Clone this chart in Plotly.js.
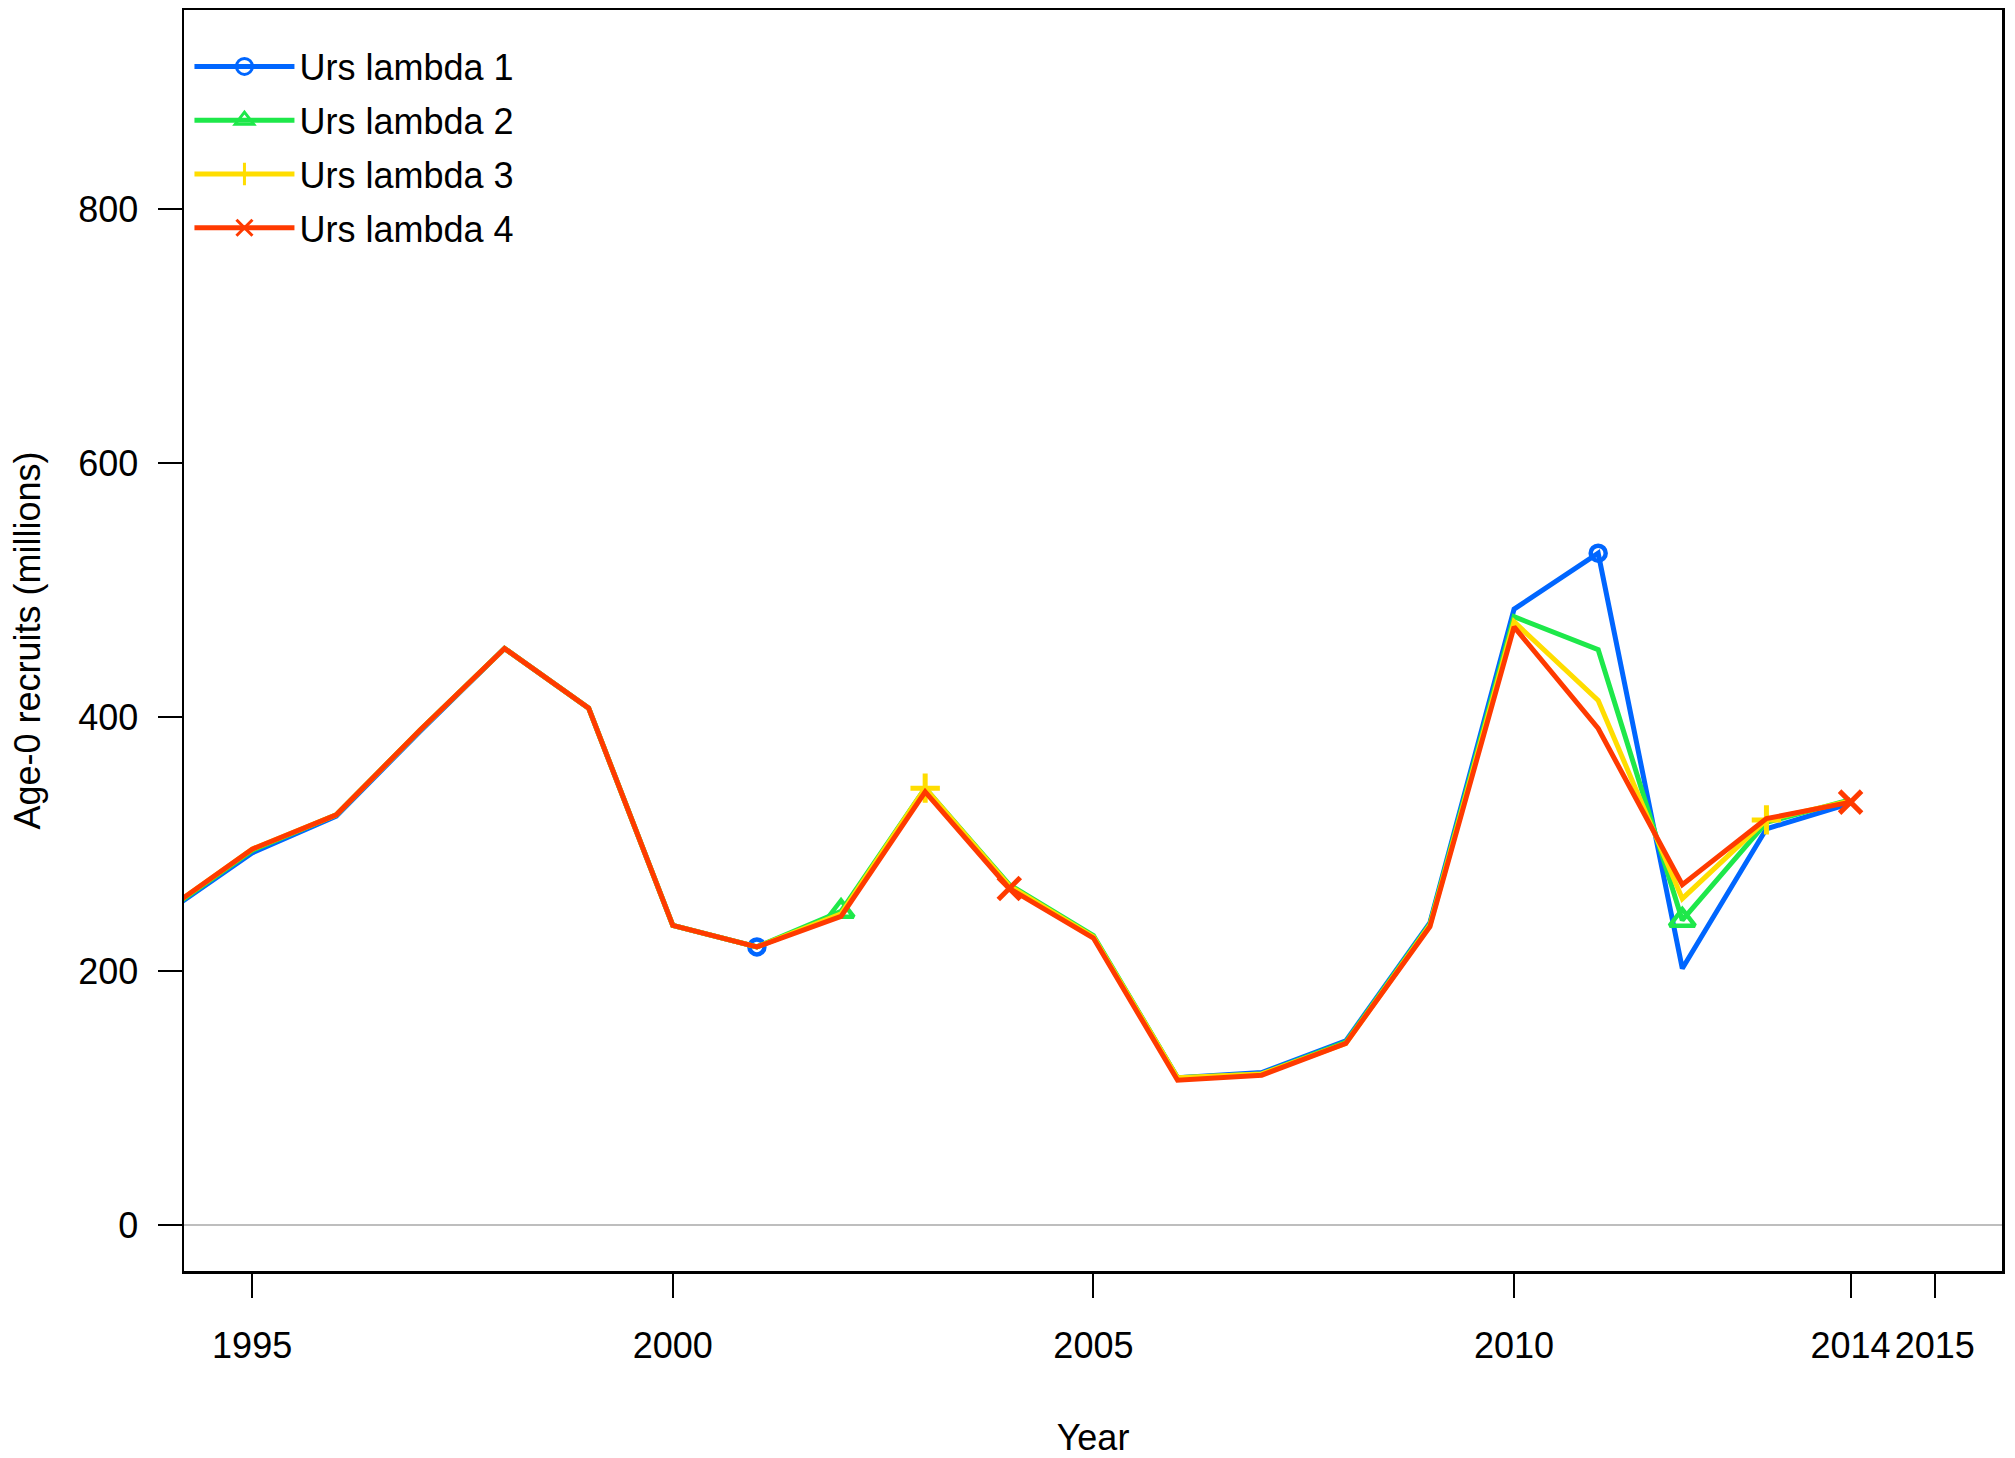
<!DOCTYPE html>
<html><head><meta charset="utf-8">
<script src="https://cdn.plot.ly/plotly-3.0.1.min.js"></script>
<style>html,body{margin:0;padding:0;background:#fff}#chart{width:2015px;height:1458px}</style>
</head><body><div id="chart"></div>
<script>
// ---- data ----
const years   = [1994,1995,1996,1997,1998,1999,2000,2001,2002,2003,2004,2005,2006,2007,2008,2009,2010,2011,2012,2013,2014];
const lambda1 = [247, 293, 322, 389, 454, 407, 236, 219, 245, 343, 266, 227, 116, 120, 145, 238, 485, 529, 202, 312, 332];
const lambda2 = [248, 295, 323, 390, 454, 407, 236, 219, 247, 344, 268, 228, 116, 119, 144, 237, 479, 453, 240, 317, 335];
const lambda3 = [249, 296, 323, 390, 454, 407, 236, 219, 245, 344, 267, 227, 116, 119, 143, 236, 475, 413, 257, 319, 334];
const lambda4 = [249, 296, 323, 390, 454, 407, 236, 219, 243, 341, 265, 226, 114, 118, 143, 235, 471, 391, 268, 320, 333];
const seriesNames = ['Urs lambda 1','Urs lambda 2','Urs lambda 3','Urs lambda 4'];
const markerYears1 = [2001, 2011];
const markerYears2 = [2002, 2012];
const markerYears3 = [2003, 2013];
const markerYears4 = [2004, 2014];
const xTickVals = [1995, 2000, 2005, 2010, 2014, 2015];
const yTickVals = [0, 200, 400, 600, 800];

// ---- styles ----
const FONT = 'Liberation Sans, Arial, Helvetica, sans-serif';
const styles = [
  {color:'#0066ff', symbol:'circle-open',      size:15, lw:4.5},
  {color:'#1ee84a', symbol:'triangle-up-open', size:22, lw:4.5},
  {color:'#ffdd00', symbol:'cross-thin-open',  size:21, lw:5},
  {color:'#ff3a00', symbol:'x-thin-open',      size:22, lw:5}
];
const allSeries = [lambda1, lambda2, lambda3, lambda4];
const allMarkerYears = [markerYears1, markerYears2, markerYears3, markerYears4];

const traces = [];
// lines + sparse markers
allSeries.forEach((vals, i) => {
  const st = styles[i];
  traces.push({
    type:'scatter', mode:'lines+markers', name:seriesNames[i], showlegend:false,
    x: years, y: vals,
    line:{color:st.color, width:5},
    marker:{symbol:st.symbol, color:st.color, opacity:1,
            size: years.map(yr => allMarkerYears[i].includes(yr) ? st.size : 0),
            line:{color:st.color, width:st.lw}},
    cliponaxis:true, hoverinfo:'skip'
  });
});
// legend entries
allSeries.forEach((vals, i) => {
  const st = styles[i];
  traces.push({
    type:'scatter', mode:'lines+markers', name:seriesNames[i], showlegend:true,
    legendgroup:'g' + i,
    x:[null], y:[null],
    line:{color:st.color, width:5},
    marker:{symbol:st.symbol, color:st.color, size:16, line:{color:st.color, width:3}}
  });
});

const layout = {
  width:2015, height:1458,
  margin:{l:184, r:13, t:10, b:187},
  paper_bgcolor:'#fff', plot_bgcolor:'#fff',
  font:{family:FONT, size:36, color:'#000'},
  showlegend:true,
  legend:{x:0.003, y:0.979, xanchor:'left', yanchor:'top', bgcolor:'rgba(0,0,0,0)',
          borderwidth:0, font:{family:FONT, size:36, color:'#000'}, itemwidth:100,
          traceorder:'grouped', tracegroupgap:4},
  xaxis:{
    range:[1994.19, 2015.80], tickmode:'array', tickvals:xTickVals, ticktext:xTickVals.map(String),
    ticks:'outside', ticklen:24, tickwidth:2, tickcolor:'#000', ticklabelstandoff:17,
    showline:true, mirror:true, linecolor:'#000', linewidth:2.5,
    showgrid:false, zeroline:false, tickfont:{family:FONT, size:36, color:'#000'},
    title:{text:'Year', font:{family:FONT, size:36, color:'#000'}, standoff:68}
  },
  yaxis:{
    range:[-36.2, 956.7], tickmode:'array', tickvals:yTickVals, ticktext:yTickVals.map(String),
    ticks:'outside', ticklen:24, tickwidth:2.5, tickcolor:'#000', ticklabelstandoff:12,
    showline:true, mirror:true, linecolor:'#000', linewidth:2.5,
    showgrid:false, zeroline:true, zerolinecolor:'#bebebe', zerolinewidth:2.5,
    tickfont:{family:FONT, size:36, color:'#000'},
    title:{text:'Age-0 recruits (millions)', font:{family:FONT, size:36, color:'#000'}, standoff:27}
  }
};
Plotly.newPlot('chart', traces, layout, {staticPlot:true, displayModeBar:false});
</script>
</body></html>
